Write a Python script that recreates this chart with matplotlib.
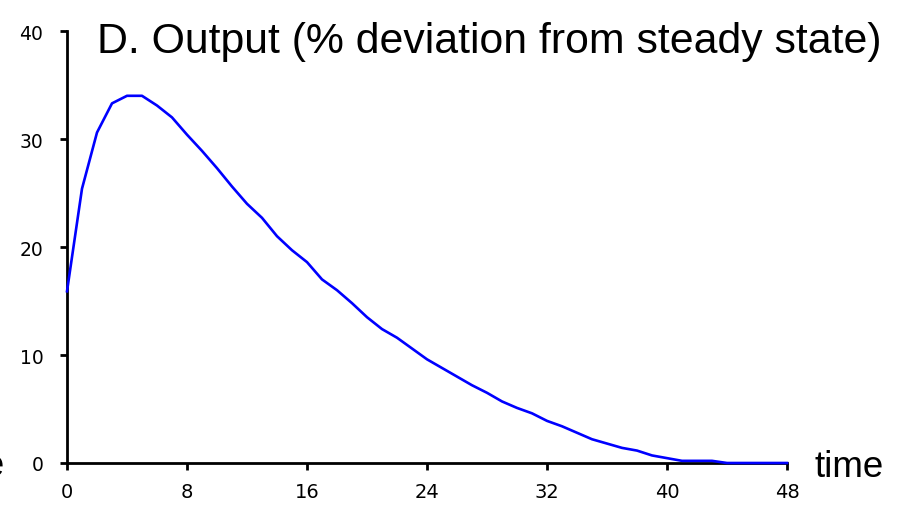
import matplotlib
matplotlib.use("Agg")
import matplotlib.pyplot as plt

# Data
time = list(range(49))
output = [15.9, 25.4, 30.6, 33.3, 34.0, 34.0, 33.1, 32.0, 30.4, 28.9,
          27.3, 25.6, 24.0, 22.7, 21.0, 19.7, 18.6, 17.0, 16.0, 14.8,
          13.5, 12.4, 11.6, 10.6, 9.6, 8.8, 8.0, 7.2, 6.5, 5.7,
          5.1, 4.6, 3.9, 3.4, 2.8, 2.2, 1.8, 1.4, 1.15, 0.7,
          0.45, 0.2, 0.2, 0.2, 0.0, 0.0, 0.0, 0.0, 0.0]
xticks = [0, 8, 16, 24, 32, 40, 48]
yticks = [0, 10, 20, 30, 40]
title = "D. Output (% deviation from steady state)"
xlabel = "time"

plt.rcParams['font.family'] = ['Liberation Sans', 'DejaVu Sans']

W, H = 904, 506
fig = plt.figure(figsize=(W / 100, H / 100), dpi=100)
ax = fig.add_axes([67 / W, 1 - 464 / H, (787 - 67) / W, (464 - 32) / H])

ax.plot(time, output, color='#0000ff', lw=1.9, zorder=3, clip_on=False)

ax.set_xlim(0, 48)
ax.set_ylim(0, 40)
ax.set_xticks(xticks)
ax.set_yticks(yticks)
for s in ['top', 'right']:
    ax.spines[s].set_visible(False)
for s in ['left', 'bottom']:
    ax.spines[s].set_linewidth(2.0)
    ax.spines[s].set_color('black')
ax.tick_params(axis='both', direction='out', length=5, width=2.0, color='black')
ax.tick_params(axis='x', labelsize=14, pad=9)
ax.tick_params(axis='y', labelsize=13.5, pad=12)
for lab in ax.get_xticklabels() + ax.get_yticklabels():
    lab.set_family('DejaVu Sans')

fig.text(97 / W, 1 - 53 / H, title, fontsize=30.8, ha='left', va='baseline')
fig.text(815 / W, 1 - 477 / H, xlabel, fontsize=26.5, ha='left', va='baseline')
# cut-off label from neighbouring panel at far left edge
fig.text(5 / W, 1 - 476 / H, xlabel, fontsize=26.5, ha='right', va='baseline')

fig.savefig("out.png", dpi=100)
